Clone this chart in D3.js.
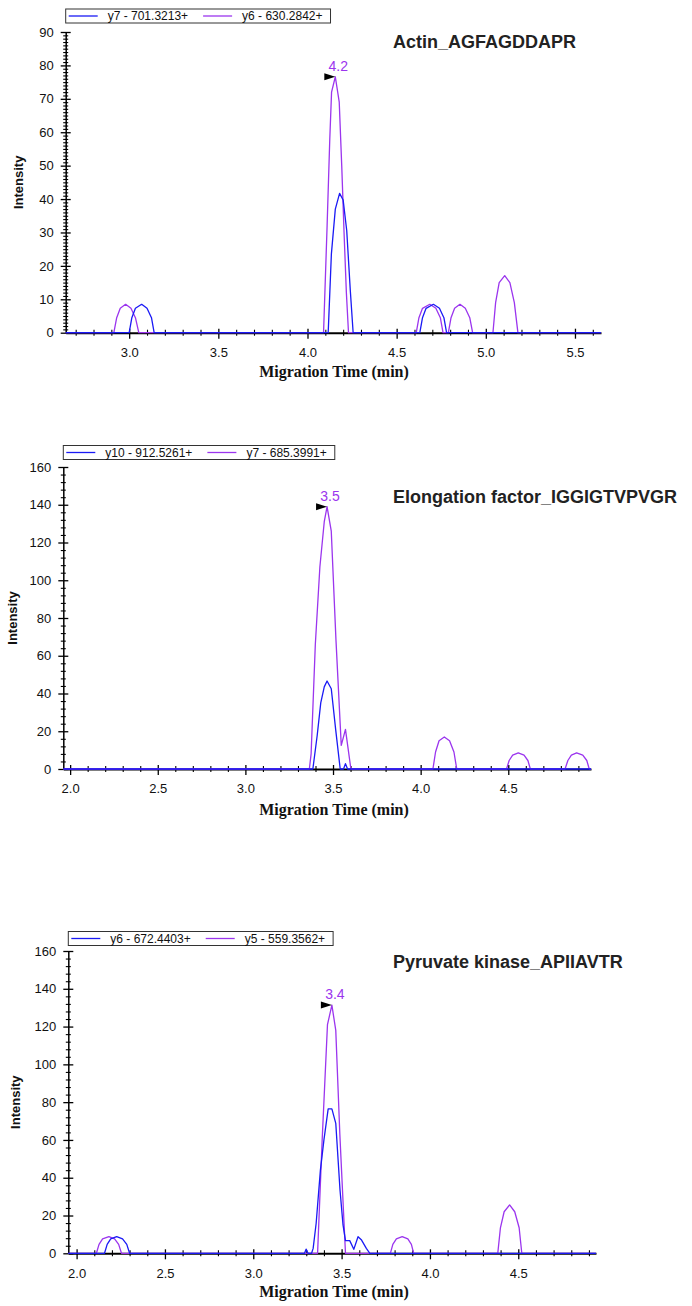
<!DOCTYPE html>
<html><head><meta charset="utf-8">
<script src="https://cdn.jsdelivr.net/npm/d3@7"></script>
<style>body{margin:0;background:#fff}svg{display:block}</style>
</head><body>
<script>
// ---------------- DATA ----------------
const titles = ["Actin_AGFAGDDAPR", "Elongation factor_IGGIGTVPVGR", "Pyruvate kinase_APIIAVTR"];
const legendActin = ["y7 - 701.3213+", "y6 - 630.2842+"];
const legendEF = ["y10 - 912.5261+", "y7 - 685.3991+"];
const legendPK = ["y6 - 672.4403+", "y5 - 559.3562+"];

const actinXDomain = [2.644, 5.646];
const efXDomain = [1.961, 4.972];
const pkXDomain = [1.953, 4.94];
const actinXTicks = [3.0, 3.5, 4.0, 4.5, 5.0, 5.5];
const efXTicks = [2.0, 2.5, 3.0, 3.5, 4.0, 4.5];
const pkXTicks = [2.0, 2.5, 3.0, 3.5, 4.0, 4.5];
const actinYTicks = [0, 10, 20, 30, 40, 50, 60, 70, 80, 90];
const efYTicks = [0, 20, 40, 60, 80, 100, 120, 140, 160];
const pkYTicks = [0, 20, 40, 60, 80, 100, 120, 140, 160];

// peak annotations: [time, intensity, label]
const actinPeak = [4.156, 76.6, "4.2"];
const efPeak = [3.466, 139, "3.5"];
const pkPeak = [3.445, 131.4, "3.4"];

// Actin: y7 (blue) and y6 (purple)
const actinY7 = [[2.644,0],[3.0,0],[3.015,4.5],[3.035,7.3],[3.07,8.5],[3.10,7.3],[3.125,4.5],[3.14,0],
  [4.116,0],[4.134,23.6],[4.156,37],[4.18,41.7],[4.20,39.7],[4.22,30.6],[4.24,12.7],[4.256,0],
  [4.63,0],[4.645,4.5],[4.665,7.3],[4.706,8.5],[4.74,7.3],[4.765,4.5],[4.78,0],[5.646,0]];
const actinY6 = [[2.644,0],[2.914,0],[2.93,4.5],[2.95,7.3],[2.98,8.5],[3.01,7.3],[3.035,4.5],[3.054,0],
  [4.09,0],[4.11,32],[4.125,58],[4.135,72],[4.156,76.6],[4.178,69],[4.192,50],[4.205,30],[4.218,12],[4.23,0],
  [4.61,0],[4.625,4.5],[4.645,7.3],[4.686,8.5],[4.72,7.3],[4.745,4.5],[4.76,0],
  [4.79,0],[4.805,4.5],[4.825,7.3],[4.855,8.5],[4.885,7.3],[4.91,4.5],[4.926,0],
  [5.04,0],[5.055,9],[5.075,15],[5.106,17.1],[5.135,15],[5.16,9],[5.18,0],[5.646,0]];

// Elongation factor: y10 (blue) and y7 (purple)
const efY10 = [[1.961,0],[3.385,0],[3.41,18],[3.43,35],[3.45,43.5],[3.466,46.6],[3.49,42.5],[3.515,21],[3.541,0],
  [3.56,0],[3.571,2.8],[3.583,0],[4.972,0]];
const efY7 = [[1.961,0],[3.365,0],[3.375,8],[3.399,66],[3.425,107],[3.45,131],[3.466,139],[3.49,126],[3.517,68],
  [3.547,12.5],[3.571,21],[3.602,0],
  [4.07,0],[4.085,9],[4.105,15],[4.135,17],[4.165,15],[4.19,9],[4.206,0],
  [4.49,0],[4.505,4.5],[4.525,7.3],[4.557,8.5],[4.59,7.3],[4.612,4.5],[4.626,0],
  [4.824,0],[4.84,4.5],[4.86,7.3],[4.89,8.5],[4.925,7.3],[4.948,4.5],[4.962,0],[4.972,0]];

// Pyruvate kinase: y6 (blue) and y5 (purple)
const pkY6 = [[1.953,0],[2.158,0],[2.173,4.7],[2.193,7.6],[2.227,8.8],[2.26,7.6],[2.284,4.7],[2.30,0],
  [3.29,0],[3.299,2.2],[3.31,0],[3.33,0],[3.339,2.6],[3.356,15.9],[3.38,44],[3.40,60],[3.424,76.4],[3.445,76.4],
  [3.467,68.8],[3.491,33.5],[3.508,15],[3.522,6.7],[3.546,6.7],[3.569,2.1],[3.593,8.8],[3.613,7],[3.64,2.6],[3.66,0],[4.94,0]];
const pkY5 = [[1.953,0],[2.112,0],[2.127,4.7],[2.147,7.6],[2.183,8.8],[2.215,7.6],[2.238,4.7],[2.254,0],
  [3.364,0],[3.39,60],[3.42,121],[3.445,131.4],[3.467,118],[3.49,63],[3.522,0],
  [3.776,0],[3.79,4.7],[3.81,7.6],[3.843,8.8],[3.875,7.6],[3.895,4.7],[3.908,0],
  [4.384,0],[4.399,13.5],[4.42,22],[4.451,25.6],[4.48,22],[4.505,13.5],[4.52,0],[4.94,0]];

// ---------------- STYLE / LAYOUT ----------------
const BLUE = "#1a1af5", PURPLE = "#9b35ee";
const SANS = "'Liberation Sans', Arial, sans-serif";
const SERIF = "'Liberation Serif', 'Times New Roman', serif";

const panels = [
  {title: titles[0], legend: legendActin, blue: actinY7, purple: actinY6, xDomain: actinXDomain, xTicks: actinXTicks,
   yTicks: actinYTicks, yMinor: 1, peak: actinPeak,
   left: 65.7, right: 601, top: 32, bottom: 332.7, legendTop: 9, titleY: 48, yTitleX: 18, xTitleY: 377},
  {title: titles[1], legend: legendEF, blue: efY10, purple: efY7, xDomain: efXDomain, xTicks: efXTicks,
   yTicks: efYTicks, yMinor: 4, peak: efPeak,
   left: 63.3, right: 591, top: 467, bottom: 769, legendTop: 445.5, titleY: 503, yTitleX: 12, xTitleY: 815},
  {title: titles[2], legend: legendPK, blue: pkY6, purple: pkY5, xDomain: pkXDomain, xTicks: pkXTicks,
   yTicks: pkYTicks, yMinor: 4, peak: pkPeak,
   left: 68.3, right: 596, top: 951, bottom: 1253.3, legendTop: 931.5, titleY: 968, yTitleX: 15, xTitleY: 1297}
];

const svg = d3.select("body").append("svg").attr("width", 692).attr("height", 1306)
  .style("background", "#fff");

function drawPanel(p) {
  const g = svg.append("g");
  const yMax = p.yTicks[p.yTicks.length - 1];
  const x = d3.scaleLinear().domain(p.xDomain).range([p.left, p.right]);
  const y = d3.scaleLinear().domain([0, yMax]).range([p.bottom, p.top]);

  // minor x ticks every 0.1
  const minorX = d3.range(Math.ceil(p.xDomain[0] * 10), Math.floor(p.xDomain[1] * 10) + 1)
    .map(v => v / 10).filter(v => !p.xTicks.some(t => Math.abs(t - v) < 1e-6));
  const minorY = d3.range(0, yMax + 0.001, p.yMinor).filter(v => !p.yTicks.includes(v));

  // X axis
  const xAxis = g.append("g").attr("transform", `translate(0,${p.bottom})`)
    .call(d3.axisBottom(x).tickValues(p.xTicks).tickFormat(d3.format(".1f")).tickSize(6).tickSizeOuter(0).tickPadding(9));
  xAxis.selectAll(".tick line").attr("y1", -4).attr("stroke", "#000").attr("stroke-width", 1.3);
  xAxis.select(".domain").attr("stroke", "#000").attr("stroke-width", 2);
  xAxis.selectAll("text").attr("font-family", SANS).attr("font-size", 13).attr("fill", "#111");
  const xMinor = g.append("g").attr("transform", `translate(0,${p.bottom})`)
    .call(d3.axisBottom(x).tickValues(minorX).tickFormat("").tickSize(3).tickSizeOuter(0));
  xMinor.select(".domain").remove();
  xMinor.selectAll(".tick line").attr("y1", -3).attr("stroke", "#000").attr("stroke-width", 1.1);

  // Y axis
  const yAxis = g.append("g").attr("transform", `translate(${p.left},0)`)
    .call(d3.axisLeft(y).tickValues(p.yTicks).tickSize(5).tickSizeOuter(0).tickPadding(7));
  yAxis.selectAll(".tick line").attr("x1", 5).attr("stroke", "#000").attr("stroke-width", 1.3);
  yAxis.select(".domain").attr("stroke", "#000").attr("stroke-width", 1.5);
  yAxis.selectAll("text").attr("font-family", SANS).attr("font-size", 13).attr("fill", "#111");
  const yMinorAxis = g.append("g").attr("transform", `translate(${p.left},0)`)
    .call(d3.axisLeft(y).tickValues(minorY).tickFormat("").tickSize(2.5).tickSizeOuter(0));
  yMinorAxis.select(".domain").remove();
  yMinorAxis.selectAll(".tick line").attr("x1", 2.5).attr("stroke", "#000").attr("stroke-width", 1.1);

  // Series
  const line = d3.line().x(d => x(d[0])).y(d => y(d[1]));
  g.append("path").datum(p.purple).attr("d", line).attr("fill", "none")
    .attr("stroke", PURPLE).attr("stroke-width", 1.3).attr("stroke-linejoin", "round");
  g.append("path").datum(p.blue).attr("d", line).attr("fill", "none")
    .attr("stroke", BLUE).attr("stroke-width", 1.3).attr("stroke-linejoin", "round");

  // Peak annotation
  const px = x(p.peak[0]), py = y(p.peak[1]);
  g.append("path").attr("d", `M${px},${py} L${px - 11},${py - 3.5} L${px - 11},${py + 3.5} Z`).attr("fill", "#000");
  g.append("text").attr("x", px + 3).attr("y", py - 6).attr("text-anchor", "middle")
    .attr("font-family", SANS).attr("font-size", 14).attr("fill", PURPLE).text(p.peak[2]);

  // Title
  g.append("text").attr("x", 393).attr("y", p.titleY).attr("font-family", SANS).attr("font-weight", "bold")
    .attr("font-size", 18).attr("fill", "#222").text(p.title);

  // Axis titles
  g.append("text").attr("x", 334).attr("y", p.xTitleY).attr("text-anchor", "middle")
    .attr("font-family", SERIF).attr("font-weight", "bold").attr("font-size", 16).attr("fill", "#111")
    .text("Migration Time (min)");
  g.append("text").attr("transform", `translate(${p.yTitleX},${(p.top + p.bottom) / 2}) rotate(-90)`)
    .attr("text-anchor", "middle").attr("dy", "0.35em")
    .attr("font-family", SANS).attr("font-weight", "bold").attr("font-size", 13).attr("fill", "#111")
    .text("Intensity");

  // Legend
  const lg = g.append("g");
  const box = lg.append("rect").attr("x", p.left).attr("y", p.legendTop).attr("height", 14)
    .attr("fill", "#fff").attr("stroke", "#333").attr("stroke-width", 1);
  const cy = p.legendTop + 7;
  let cx = p.left + 3;
  [BLUE, PURPLE].forEach((c, i) => {
    lg.append("line").attr("x1", cx).attr("x2", cx + 29).attr("y1", cy).attr("y2", cy)
      .attr("stroke", c).attr("stroke-width", 1.3);
    const t = lg.append("text").attr("x", cx + 39).attr("y", cy).attr("dy", "0.35em")
      .attr("font-family", SANS).attr("font-size", 12).attr("fill", "#111").text(p.legend[i]);
    cx = cx + 39 + t.node().getComputedTextLength() + 15;
  });
  box.attr("width", cx - 15 + 8 - p.left);
}

panels.forEach(drawPanel);
</script>
</body></html>
